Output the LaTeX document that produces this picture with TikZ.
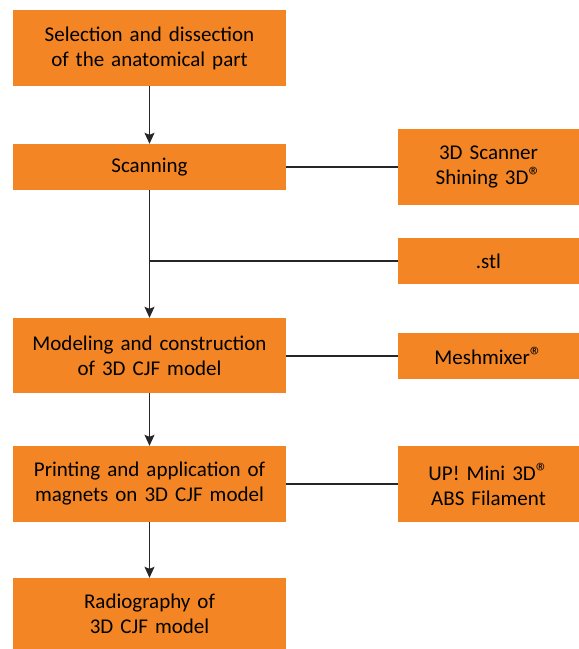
\documentclass[tikz,border=0pt]{standalone}
\usepackage{fontspec}
\setmainfont{Carlito}
\usetikzlibrary{arrows.meta}
\definecolor{boxorange}{RGB}{243,133,36}
\newcommand{\regmark}{{\fontsize{25}{25}\selectfont ®}}
\tikzset{
  stagebox/.style={fill=boxorange, draw=none, inner sep=0pt, align=center,
    minimum width=273pt, text width=265pt,
    font=\fontsize{21}{25}\selectfont},
  toolbox/.style={fill=boxorange, draw=none, inner sep=0pt, align=center,
    minimum width=181pt, text width=175pt,
    font=\fontsize{21}{25}\selectfont},
  link/.style={line width=1.2pt, draw=black!85},
  flow/.style={link, -{Stealth[length=11pt,width=10pt,inset=2pt]}}
}
\begin{document}
\begin{tikzpicture}[x=1pt,y=-1pt]
  \useasboundingbox (0,0) rectangle (579,649);
  % main process column
  \node[stagebox, minimum height=76pt] (select) at (149.5,48)
    {Selection and dissection\\of the anatomical part};
  \node[stagebox, minimum height=46pt] (scan) at (149.5,167) {Scanning};
  \node[stagebox, minimum height=75pt] (model) at (149.5,355.5)
    {Modeling and construction\\of 3D CJF model};
  \node[stagebox, minimum height=76pt] (print) at (149.5,484)
    {Printing and application of\\magnets on 3D CJF model};
  \node[stagebox, minimum height=72pt] (radio) at (149.5,614)
    {Radiography of\\3D CJF model};
  % tools and files
  \node[toolbox, minimum height=76pt] (scanner) at (488.5,167)
    {3D Scanner\\Shining 3D\regmark};
  \node[toolbox, minimum height=46pt] (stl) at (488.5,261) {.stl};
  \node[toolbox, minimum height=46pt] (mesh) at (488.5,356)
    {Meshmixer\regmark};
  \node[toolbox, minimum height=76pt] (printer) at (488.5,484)
    {UP! Mini 3D\regmark\\ABS Filament};
  % connectors
  \coordinate (branch) at (149,261);
  \draw[flow] (select) -- (scan);
  \draw[flow] (scan) -- (model);
  \draw[flow] (model) -- (print);
  \draw[flow] (print) -- (radio);
  \draw[link] (scan.east) -- (scanner.west);
  \draw[link] (branch) -- (stl.west);
  \draw[link] (model.east |- mesh.west) -- (mesh.west);
  \draw[link] (print.east) -- (printer.west);
\end{tikzpicture}
\end{document}
